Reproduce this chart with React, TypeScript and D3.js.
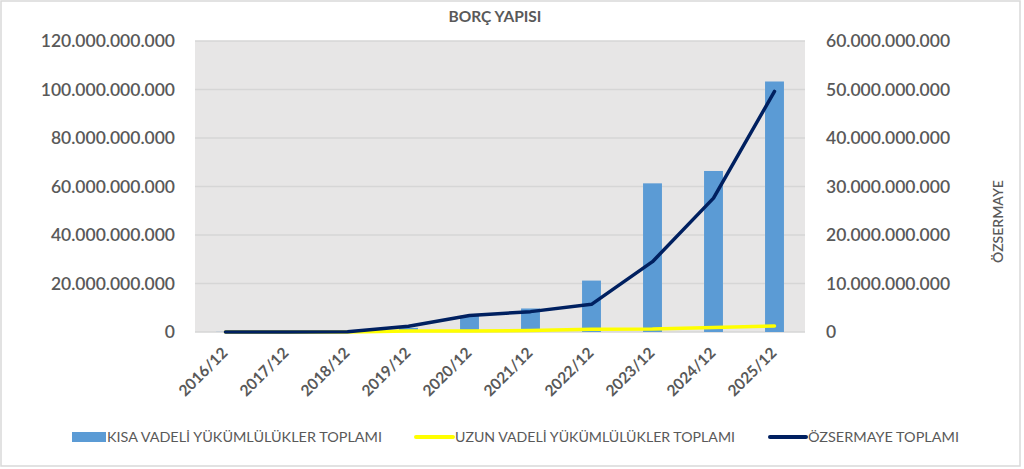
import React from 'react';
import * as d3 from 'd3';

// Chart values
const years = ['2016/12', '2017/12', '2018/12', '2019/12', '2020/12', '2021/12', '2022/12', '2023/12', '2024/12', '2025/12'];
const kisaVadeli = [0.05e9, 0.08e9, 0.1e9, 1.7e9, 6.7e9, 9.7e9, 21.2e9, 61.3e9, 66.4e9, 103.3e9];
const uzunVadeli = [0, 0, 0.05e9, 0.4e9, 0.4e9, 0.6e9, 1.1e9, 1.2e9, 1.9e9, 2.5e9];
const ozsermaye = [0, 0, 0.05e9, 1.2e9, 3.4e9, 4.2e9, 5.7e9, 14.5e9, 27.6e9, 49.6e9];
const leftTicks = [0, 20e9, 40e9, 60e9, 80e9, 100e9, 120e9];
const rightTicks = [0, 10e9, 20e9, 30e9, 40e9, 50e9, 60e9];

const W = 1024;
const H = 469;
const plot = { left: 195, right: 805, top: 41, bottom: 332 };
const font = 'Lato, "Open Sans", sans-serif';
const textColor = '#595959';

// Turkish thousands separator
const fmt = (v: number) => (v === 0 ? '0' : d3.format(',.0f')(v).replace(/,/g, '.'));

export default function App() {
  const x = d3.scaleBand<string>().domain(years).range([plot.left, plot.right]).paddingInner(0.69).paddingOuter(0.345);
  const xc = (d: string) => (x(d) as number) + x.bandwidth() / 2;
  const yL = d3.scaleLinear().domain([0, 120e9]).range([plot.bottom, plot.top]);
  const yR = d3.scaleLinear().domain([0, 60e9]).range([plot.bottom, plot.top]);

  const lineL = d3.line<number>().x((_, i) => xc(years[i])).y(v => yL(v));
  const lineR = d3.line<number>().x((_, i) => xc(years[i])).y(v => yR(v));

  return (
    <svg width={W} height={H} style={{ position: 'absolute', left: 0, top: 0 }} fontFamily={font}>
      <rect x={0} y={0} width={W} height={H} fill="#fff" />
      <rect x={1} y={1} width={1019} height={465} fill="none" stroke="#d9d9d9" strokeWidth={1.5} />

      <text x={495} y={22} textAnchor="middle" fontSize={15.5} fontWeight="bold" fill={textColor}>BORÇ YAPISI</text>

      {/* plot area */}
      <rect x={plot.left} y={plot.top} width={plot.right - plot.left} height={plot.bottom - plot.top} fill="#e7e6e6" />
      {leftTicks.map(t => (
        <line key={t} x1={plot.left} x2={plot.right} y1={yL(t)} y2={yL(t)} stroke="#d6d6d6" strokeWidth={1.5} />
      ))}

      {/* left axis labels */}
      {leftTicks.map(t => (
        <text key={t} x={175} y={yL(t)} dy="0.35em" textAnchor="end" fontSize={17.5} fontWeight={600} fill={textColor}>{fmt(t)}</text>
      ))}
      {/* right axis labels */}
      {rightTicks.map(t => (
        <text key={t} x={826} y={yR(t)} dy="0.35em" textAnchor="start" fontSize={17.5} fontWeight={600} fill={textColor}>{fmt(t)}</text>
      ))}
      <text transform={`translate(1003,${(plot.top + plot.bottom) / 2 + 35}) rotate(-90)`} textAnchor="middle" fontSize={14} fontWeight={600} fill={textColor}>ÖZSERMAYE</text>

      {/* bars */}
      {years.map((d, i) => (
        <rect key={d} x={x(d)} y={yL(kisaVadeli[i])} width={x.bandwidth()} height={plot.bottom - yL(kisaVadeli[i])} fill="#5b9bd5" />
      ))}

      {/* lines */}
      <path d={lineL(uzunVadeli) || ''} fill="none" stroke="#ffff00" strokeWidth={3.5} strokeLinejoin="round" strokeLinecap="round" />
      <path d={lineR(ozsermaye) || ''} fill="none" stroke="#002060" strokeWidth={3.5} strokeLinejoin="round" strokeLinecap="round" />

      {/* x axis labels */}
      {years.map(d => (
        <text key={d} transform={`translate(${xc(d) + 3},${plot.bottom + 22}) rotate(-45)`} textAnchor="end" fontSize={15.5} fontWeight="bold" fill={textColor}>{d}</text>
      ))}

      {/* legend */}
      <g fontSize={14} fill={textColor}>
        <rect x={72} y={432} width={34} height={10} fill="#5b9bd5" />
        <text x={107} y={437} dy="0.35em" textLength={275} lengthAdjust="spacingAndGlyphs">KISA VADELİ YÜKÜMLÜLÜKLER TOPLAMI</text>
        <line x1={416} x2={453} y1={437} y2={437} stroke="#ffff00" strokeWidth={4} strokeLinecap="round" />
        <text x={455} y={437} dy="0.35em" textLength={280} lengthAdjust="spacingAndGlyphs">UZUN VADELİ YÜKÜMLÜLÜKLER TOPLAMI</text>
        <line x1={770} x2={806} y1={437} y2={437} stroke="#002060" strokeWidth={4} strokeLinecap="round" />
        <text x={808} y={437} dy="0.35em" textLength={151} lengthAdjust="spacingAndGlyphs">ÖZSERMAYE TOPLAMI</text>
      </g>
    </svg>
  );
}
